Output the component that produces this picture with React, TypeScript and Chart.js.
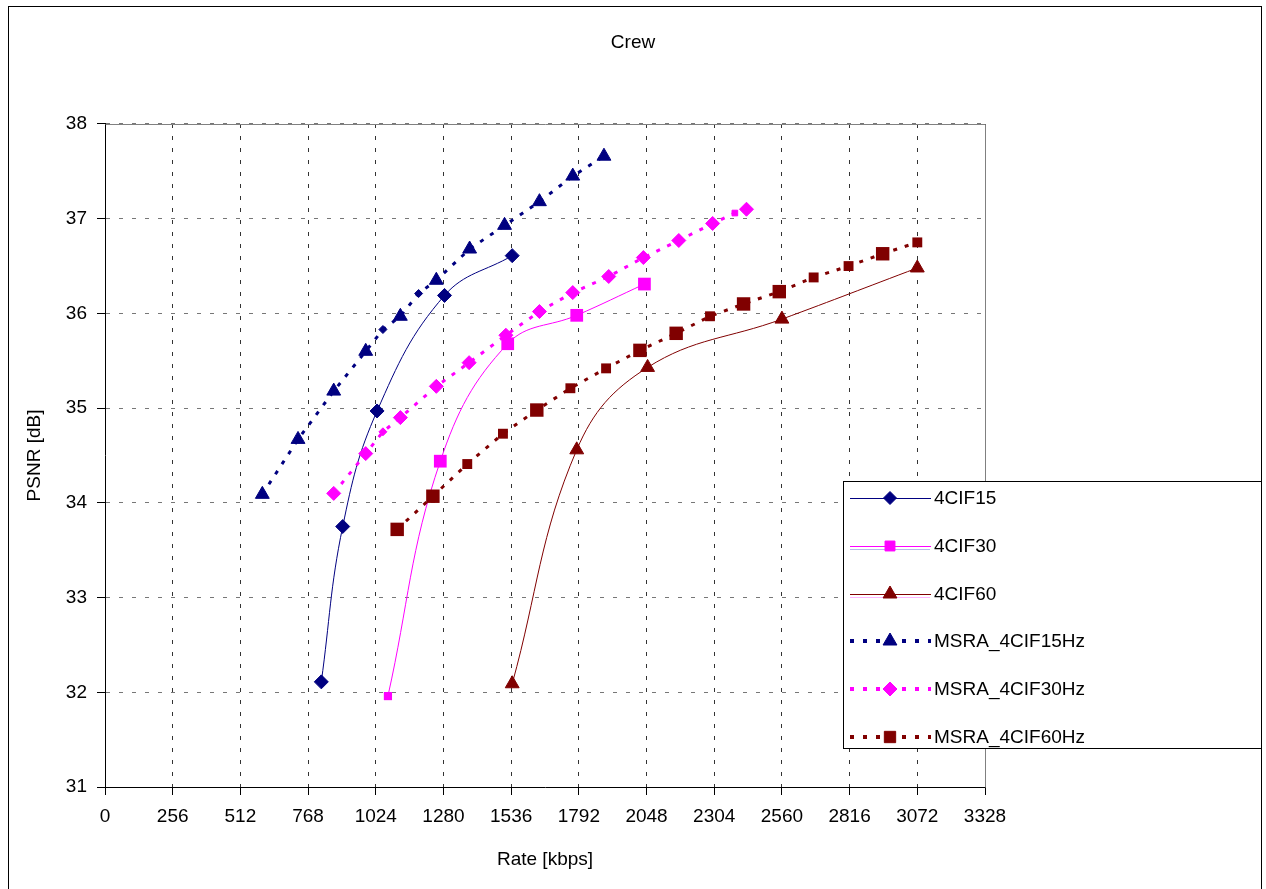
import React, { useEffect, useRef } from 'react';
import { Chart, registerables } from 'chart.js';

Chart.register(...registerables);

// ---------- data ----------
const chartTitle = 'Crew';
const xAxisTitle = 'Rate [kbps]';
const yAxisTitle = 'PSNR [dB]';
const xMin = 0;
const xMax = 3328;
const xStep = 256;
const yMin = 31;
const yMax = 38;
const yStep = 1;

const seriesNames = ['4CIF15', '4CIF30', '4CIF60', 'MSRA_4CIF15Hz', 'MSRA_4CIF30Hz', 'MSRA_4CIF60Hz'];

const cif15Rate = [818, 899, 1029, 1284, 1540];
const cif15Psnr = [32.11, 33.75, 34.97, 36.19, 36.61];

const cif30Rate = [1070, 1268, 1523, 1784, 2040];
const cif30Psnr = [31.96, 34.44, 35.68, 35.98, 36.31];

const cif60Rate = [1540, 1784, 2052, 2560, 3072];
const cif60Psnr = [32.09, 34.56, 35.43, 35.94, 36.48];

const msra15Rate = [595, 730, 865, 986, 1051, 1117, 1186, 1253, 1379, 1511, 1643, 1769, 1887];
const msra15Psnr = [34.09, 34.67, 35.18, 35.6, 35.83, 35.97, 36.21, 36.35, 36.68, 36.93, 37.18, 37.45, 37.66];

const msra30Rate = [865, 986, 1051, 1117, 1253, 1377, 1516, 1643, 1769, 1905, 2036, 2170, 2298, 2382, 2426];
const msra30Psnr = [34.1, 34.52, 34.75, 34.9, 35.23, 35.48, 35.77, 36.02, 36.22, 36.39, 36.59, 36.77, 36.95, 37.06, 37.1];

const msra60Rate = [1105, 1240, 1370, 1505, 1633, 1760, 1895, 2023, 2160, 2288, 2415, 2550, 2680, 2812, 2941, 3072];
const msra60Psnr = [33.72, 34.07, 34.41, 34.73, 34.98, 35.21, 35.42, 35.61, 35.79, 35.97, 36.1, 36.23, 36.38, 36.5, 36.63, 36.75];

// ---------- styles ----------
const NAVY = '#000080';
const MAGENTA = '#FF00FF';
const BROWN = '#800000';
const FONT = '"Liberation Sans", Arial, sans-serif';
const FONT_SIZE = 19;
const SMOOTH = 0.4;

const msra15SmallIdx = [4, 6];
const msra30SmallIdx = [2, 13];
const msra60BigIdx = [0, 1, 4, 7, 8, 10, 11, 14];
const legendMarkers = ['rectRot', 'rect', 'triangle', 'triangle', 'rectRot', 'rect'];
const legendMarkerSize = [6.5, 7, 8, 8, 7, 8];
const legendShadow = [null, '#b8b8e8', '#ffb4ff', null, null, null];

function pts(xs: number[], ys: number[]) {
  return xs.map((x, i) => ({ x, y: ys[i] }));
}

function drawMarker(ctx: CanvasRenderingContext2D, style: string, x: number, y: number, r: number, color: string) {
  ctx.save();
  ctx.fillStyle = color;
  ctx.strokeStyle = color;
  ctx.lineWidth = 1;
  ctx.setLineDash([]);
  ctx.beginPath();
  if (style === 'rectRot') {
    ctx.moveTo(x - r, y);
    ctx.lineTo(x, y - r);
    ctx.lineTo(x + r, y);
    ctx.lineTo(x, y + r);
    ctx.closePath();
  } else if (style === 'rect') {
    const s = r * Math.SQRT1_2;
    ctx.rect(x - s, y - s, 2 * s, 2 * s);
  } else {
    const a = (2 * Math.PI) / 3;
    ctx.moveTo(x, y - r);
    ctx.lineTo(x + Math.sin(a) * r, y - Math.cos(a) * r);
    ctx.lineTo(x + Math.sin(2 * a) * r, y - Math.cos(2 * a) * r);
    ctx.closePath();
  }
  ctx.fill();
  ctx.stroke();
  ctx.restore();
}

const plotFramePlugin = {
  id: 'plotFrame',
  beforeDatasetsDraw(chart: any) {
    const { ctx, chartArea } = chart;
    ctx.save();
    ctx.strokeStyle = '#808080';
    ctx.lineWidth = 1;
    ctx.setLineDash([]);
    ctx.beginPath();
    ctx.moveTo(Math.round(chartArea.left) + 0.5, Math.round(chartArea.top) + 0.5);
    ctx.lineTo(Math.round(chartArea.right) + 0.5, Math.round(chartArea.top) + 0.5);
    ctx.lineTo(Math.round(chartArea.right) + 0.5, Math.round(chartArea.bottom) + 0.5);
    ctx.stroke();
    ctx.restore();
  },
};

const boxLegendPlugin = {
  id: 'boxLegend',
  afterDraw(chart: any) {
    const ctx: CanvasRenderingContext2D = chart.ctx;
    const bx = 843.5;
    const by = 481.5;
    const bw = 418;
    const bh = 267;
    ctx.save();
    ctx.fillStyle = '#ffffff';
    ctx.fillRect(bx, by, bw, bh);
    ctx.strokeStyle = '#000';
    ctx.lineWidth = 1;
    ctx.setLineDash([]);
    ctx.strokeRect(bx, by, bw, bh);
    chart.data.datasets.forEach((ds: any, i: number) => {
      const y = Math.round(498 + i * 47.8);
      const shadow = legendShadow[i];
      if (shadow) {
        ctx.save();
        ctx.strokeStyle = shadow;
        ctx.lineWidth = 1;
        ctx.beginPath();
        ctx.moveTo(850, y + 3.5);
        ctx.lineTo(930, y + 3.5);
        ctx.stroke();
        ctx.restore();
      }
      ctx.save();
      ctx.strokeStyle = ds.borderColor;
      ctx.lineWidth = ds.borderWidth === 1 ? 1 : 4;
      ctx.setLineDash(ds.borderDash && ds.borderDash.length ? [4, 9] : []);
      ctx.beginPath();
      const ly = ds.borderWidth === 1 ? y + 0.5 : y;
      ctx.moveTo(850, ly);
      ctx.lineTo(931, ly);
      ctx.stroke();
      ctx.restore();
      drawMarker(ctx, legendMarkers[i], 890, y, legendMarkerSize[i], ds.borderColor);
      ctx.fillStyle = '#000';
      ctx.font = `${FONT_SIZE}px ${FONT}`;
      ctx.textBaseline = 'middle';
      ctx.textAlign = 'left';
      ctx.fillText(ds.label, 934, y + 1);
    });
    ctx.restore();
  },
};

export default function App() {
  const ref = useRef<HTMLCanvasElement>(null);

  useEffect(() => {
    if (!ref.current) return;
    const font = { family: FONT, size: FONT_SIZE, weight: 'normal' as const };
    const chart = new Chart(ref.current, {
      type: 'line',
      data: {
        datasets: [
          {
            label: seriesNames[0],
            data: pts(cif15Rate, cif15Psnr),
            borderColor: NAVY,
            backgroundColor: NAVY,
            borderWidth: 1,
            tension: SMOOTH,
            fill: false,
            pointStyle: 'rectRot',
            pointRadius: 7,
            pointBackgroundColor: NAVY,
            pointBorderColor: NAVY,
            pointBorderWidth: 1,
            order: 5,
          },
          {
            label: seriesNames[1],
            data: pts(cif30Rate, cif30Psnr),
            borderColor: MAGENTA,
            backgroundColor: MAGENTA,
            borderWidth: 1,
            tension: SMOOTH,
            fill: false,
            pointStyle: 'rect',
            pointRadius: (c: any) => (c.dataIndex === 0 ? 5.8 : 9),
            pointBackgroundColor: MAGENTA,
            pointBorderColor: MAGENTA,
            pointBorderWidth: 0,
            order: 4,
          },
          {
            label: seriesNames[2],
            data: pts(cif60Rate, cif60Psnr),
            borderColor: BROWN,
            backgroundColor: BROWN,
            borderWidth: 1,
            tension: SMOOTH,
            fill: false,
            pointStyle: 'triangle',
            pointRadius: 8,
            pointBackgroundColor: BROWN,
            pointBorderColor: BROWN,
            pointBorderWidth: 1,
            order: 3,
          },
          {
            label: seriesNames[3],
            data: pts(msra15Rate, msra15Psnr),
            borderColor: NAVY,
            backgroundColor: NAVY,
            borderWidth: 3,
            borderDash: [4, 8],
            tension: 0,
            fill: false,
            pointStyle: (c: any) => (msra15SmallIdx.includes(c.dataIndex) ? 'rectRot' : 'triangle'),
            pointRadius: (c: any) => (msra15SmallIdx.includes(c.dataIndex) ? 4 : 8),
            pointBackgroundColor: NAVY,
            pointBorderColor: NAVY,
            pointBorderWidth: 1,
            order: 2,
          },
          {
            label: seriesNames[4],
            data: pts(msra30Rate, msra30Psnr),
            borderColor: MAGENTA,
            backgroundColor: MAGENTA,
            borderWidth: 3,
            borderDash: [4, 8],
            tension: 0,
            fill: false,
            pointStyle: (c: any) => (c.dataIndex === msra30SmallIdx[1] ? 'rect' : 'rectRot'),
            pointRadius: (c: any) => (msra30SmallIdx.includes(c.dataIndex) ? 4 : 7),
            pointBackgroundColor: MAGENTA,
            pointBorderColor: MAGENTA,
            pointBorderWidth: 1,
            order: 1,
          },
          {
            label: seriesNames[5],
            data: pts(msra60Rate, msra60Psnr),
            borderColor: BROWN,
            backgroundColor: BROWN,
            borderWidth: 3,
            borderDash: [4, 8],
            tension: 0,
            fill: false,
            pointStyle: 'rect',
            pointRadius: (c: any) => (msra60BigIdx.includes(c.dataIndex) ? 9.5 : 7),
            pointBackgroundColor: BROWN,
            pointBorderColor: BROWN,
            pointBorderWidth: 0,
            order: 0,
          },
        ] as any,
      },
      options: {
        responsive: false,
        animation: false,
        devicePixelRatio: 1,
        layout: { padding: 0 },
        events: [],
        plugins: {
          legend: { display: false },
          tooltip: { enabled: false },
          title: {
            display: true,
            text: chartTitle,
            color: '#000',
            font,
            padding: { top: 31.6, bottom: 69.6 },
          },
        },
        scales: {
          x: {
            type: 'linear',
            position: 'bottom',
            min: xMin,
            max: xMax,
            ticks: {
              stepSize: xStep,
              color: '#000',
              font,
              padding: 10,
              maxRotation: 0,
              autoSkip: false,
              callback: (v: any) => String(v),
            },
            grid: { color: '#333', tickColor: '#000', tickLength: 8, lineWidth: 1 },
            border: { display: true, color: '#000', width: 1, dash: [4, 8] },
            title: {
              display: true,
              text: xAxisTitle,
              color: '#000',
              font,
              padding: { top: 0, bottom: 17.6 },
            },
            afterFit: (s: any) => {
              s.height = 102;
            },
          },
          y: {
            type: 'linear',
            position: 'left',
            min: yMin,
            max: yMax,
            ticks: {
              stepSize: yStep,
              color: '#000',
              font,
              padding: 10,
              callback: (v: any) => String(v),
            },
            grid: { color: '#777', tickColor: '#000', tickLength: 8, lineWidth: 1 },
            border: { display: true, color: '#000', width: 1, dash: [4, 9] },
            title: {
              display: true,
              text: yAxisTitle,
              color: '#000',
              font,
              padding: { top: 23.6, bottom: 0 },
            },
            afterFit: (s: any) => {
              s.width = 105;
            },
          },
          yR: {
            type: 'linear',
            position: 'right',
            display: true,
            grid: { display: false, drawTicks: false },
            border: { display: false },
            ticks: { display: false },
            afterFit: (s: any) => {
              s.width = 281;
            },
          },
        },
      } as any,
      plugins: [plotFramePlugin, boxLegendPlugin],
    });
    return () => chart.destroy();
  }, []);

  return (
    <div
      style={{
        position: 'fixed',
        left: 0,
        top: 0,
        width: 1266,
        height: 889,
        overflow: 'hidden',
        background: '#fff',
      }}
    >
      <canvas
        ref={ref}
        width={1266}
        height={889}
        style={{ position: 'absolute', left: 0, top: 0, width: 1266, height: 889 }}
      />
      <div
        style={{
          position: 'absolute',
          left: 8,
          top: 6,
          width: 1254,
          height: 900,
          border: '1px solid #000',
          boxSizing: 'border-box',
          pointerEvents: 'none',
        }}
      />
    </div>
  );
}
